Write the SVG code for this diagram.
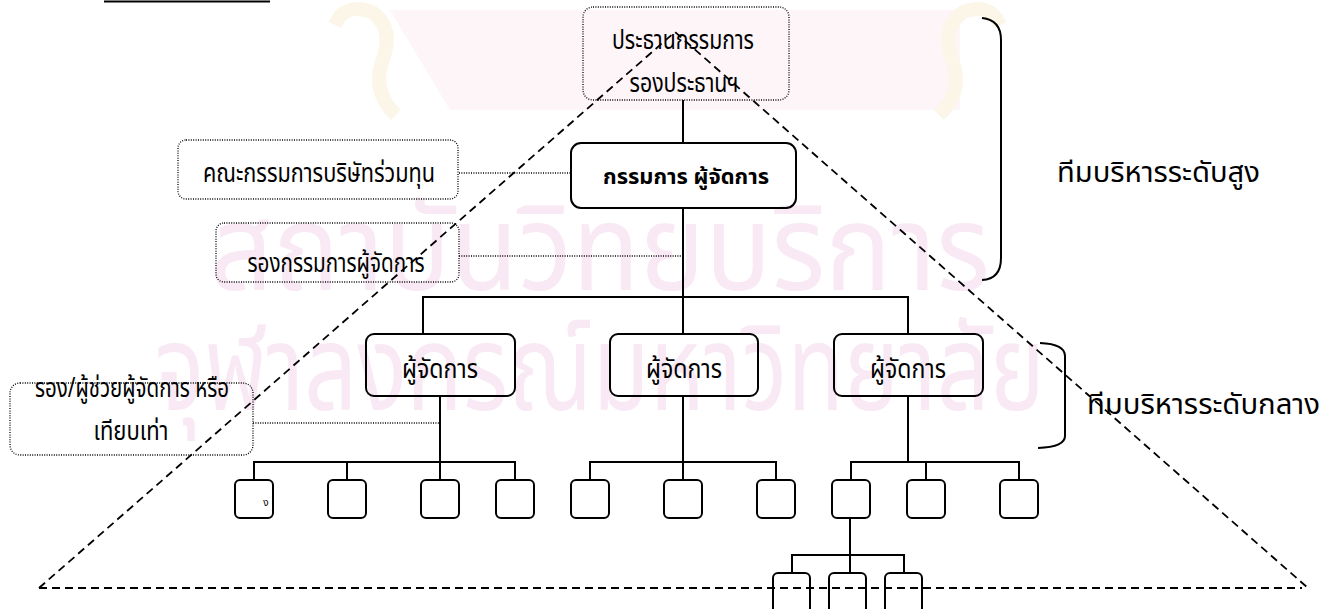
<svg xmlns="http://www.w3.org/2000/svg" width="1336" height="609" viewBox="0 0 1336 609">
  <style>
    .t { font-family: "Noto Sans Thai", "Noto Sans", "DejaVu Sans", sans-serif; fill: #000; }
    .tb { font-family: "Noto Sans Thai", "Noto Sans", "DejaVu Sans", sans-serif; fill: #000; font-weight: bold; }
    .wm { font-family: "Noto Sans Thai", "Noto Sans", "DejaVu Sans", sans-serif; fill: #f8e9f4; }
    .solid { fill: none; stroke: #000; stroke-width: 2; }
    .dot { fill: none; stroke: #000; stroke-width: 1.3; stroke-dasharray: 1 1.4; }
    .line { fill: none; stroke: #000; stroke-width: 2; }
    .dline { fill: none; stroke: #000; stroke-width: 1.3; stroke-dasharray: 1 1.4; }
    .dash { fill: none; stroke: #000; stroke-width: 1.8; stroke-dasharray: 8 5; }
    .brace { fill: none; stroke: #000; stroke-width: 2; }
  </style>
  <rect width="1336" height="609" fill="#fff"/>

  <!-- faint background seal and lettering -->
  <g id="watermark">
    <path d="M390,10 L960,10 L960,110 L450,110 Z" fill="#fdf5f8"/>
    <path d="M335,25 Q345,2 372,12 Q395,28 382,62 Q372,92 396,115" fill="none" stroke="#fbf6e8" stroke-width="14"/>
    <path d="M1000,25 Q990,2 963,12 Q940,28 953,62 Q963,92 939,115" fill="none" stroke="#fbf6e8" stroke-width="14"/>
    <text class="wm" x="600" y="290" text-anchor="middle" font-size="120" textLength="780" lengthAdjust="spacingAndGlyphs">สถาบันวิทยบริการ</text>
    <text class="wm" x="600" y="410" text-anchor="middle" font-size="120" textLength="890" lengthAdjust="spacingAndGlyphs">จุฬาลงกรณ์มหาวิทยาลัย</text>
  </g>

  <!-- title underline -->
  <line x1="104" y1="1.5" x2="270" y2="1.5" class="line"/>

  <!-- connectors -->
  <g id="connectors">
    <line x1="683" y1="100" x2="683" y2="143" class="line"/>
    <line x1="683" y1="208" x2="683" y2="334" class="line"/>
    <line x1="459" y1="173" x2="571" y2="173" class="dline"/>
    <line x1="459" y1="256" x2="683" y2="256" class="dline"/>
    <line x1="253" y1="423" x2="440" y2="423" class="dline"/>
    <!-- managers -->
    <polyline points="423,334 423,297 908,297 908,334" class="line"/>
    <!-- group 1 -->
    <line x1="440" y1="396" x2="440" y2="480" class="line"/>
    <polyline points="254,480 254,462 515,462 515,480" class="line"/>
    <line x1="347" y1="462" x2="347" y2="480" class="line"/>
    <!-- group 2 -->
    <line x1="683" y1="396" x2="683" y2="480" class="line"/>
    <polyline points="590,480 590,462 776,462 776,480" class="line"/>
    <!-- group 3 -->
    <line x1="908" y1="396" x2="908" y2="462" class="line"/>
    <polyline points="851,480 851,462 1019,462 1019,480" class="line"/>
    <line x1="926" y1="462" x2="926" y2="480" class="line"/>
    <!-- sub group -->
    <line x1="850" y1="518" x2="850" y2="573" class="line"/>
    <polyline points="792,573 792,555 904,555 904,573" class="line"/>
  </g>

  <!-- top team -->
  <g id="n-chairman">
    <rect x="583" y="7" width="206" height="93" rx="10" class="dot"/>
    <text class="t" x="683" y="49" text-anchor="middle" font-size="27" textLength="142" lengthAdjust="spacingAndGlyphs">ประธานกรรมการ</text>
    <text class="t" x="684" y="92" text-anchor="middle" font-size="27" textLength="109" lengthAdjust="spacingAndGlyphs">รองประธานฯ</text>
  </g>
  <g id="n-md">
    <rect x="571" y="143" width="225" height="65" rx="10" class="solid"/>
    <text class="tb" x="686" y="184" text-anchor="middle" font-size="22" textLength="166" lengthAdjust="spacingAndGlyphs">กรรมการ ผู้จัดการ</text>
  </g>
  <g id="n-jv-board">
    <rect x="178" y="140" width="280" height="59" rx="8" class="dot"/>
    <text class="t" x="319" y="182" text-anchor="middle" font-size="27" textLength="232" lengthAdjust="spacingAndGlyphs">คณะกรรมการบริษัทร่วมทุน</text>
  </g>
  <g id="n-deputy-md">
    <rect x="216" y="223" width="243" height="59" rx="8" class="dot"/>
    <text class="t" x="336" y="272" text-anchor="middle" font-size="27" textLength="177" lengthAdjust="spacingAndGlyphs">รองกรรมการผู้จัดการ</text>
  </g>

  <!-- middle team -->
  <g id="n-mgr-1">
    <rect x="366" y="334" width="149" height="62" rx="8" class="solid"/>
    <text class="t" x="440" y="378" text-anchor="middle" font-size="27" textLength="76" lengthAdjust="spacingAndGlyphs">ผู้จัดการ</text>
  </g>
  <g id="n-mgr-2">
    <rect x="610" y="334" width="148" height="62" rx="8" class="solid"/>
    <text class="t" x="684" y="378" text-anchor="middle" font-size="27" textLength="76" lengthAdjust="spacingAndGlyphs">ผู้จัดการ</text>
  </g>
  <g id="n-mgr-3">
    <rect x="834" y="334" width="149" height="62" rx="8" class="solid"/>
    <text class="t" x="908" y="378" text-anchor="middle" font-size="27" textLength="76" lengthAdjust="spacingAndGlyphs">ผู้จัดการ</text>
  </g>
  <g id="n-asst">
    <rect x="10" y="383" width="243" height="72" rx="10" class="dot"/>
    <text class="t" x="132" y="397" text-anchor="middle" font-size="27" textLength="194" lengthAdjust="spacingAndGlyphs">รอง/ผู้ช่วยผู้จัดการ หรือ</text>
    <text class="t" x="131" y="440" text-anchor="middle" font-size="27" textLength="75" lengthAdjust="spacingAndGlyphs">เทียบเท่า</text>
  </g>

  <!-- staff units -->
  <g id="n-unit-1"><rect x="235" y="480" width="38" height="38" rx="5" class="solid"/><text class="t" x="266" y="506" text-anchor="middle" font-size="10">ง</text></g>
  <g id="n-unit-2"><rect x="328" y="480" width="38" height="38" rx="5" class="solid"/></g>
  <g id="n-unit-3"><rect x="421" y="480" width="38" height="38" rx="5" class="solid"/></g>
  <g id="n-unit-4"><rect x="496" y="480" width="38" height="38" rx="5" class="solid"/></g>
  <g id="n-unit-5"><rect x="571" y="480" width="38" height="38" rx="5" class="solid"/></g>
  <g id="n-unit-6"><rect x="664" y="480" width="38" height="38" rx="5" class="solid"/></g>
  <g id="n-unit-7"><rect x="757" y="480" width="38" height="38" rx="5" class="solid"/></g>
  <g id="n-unit-8"><rect x="832" y="480" width="38" height="38" rx="5" class="solid"/></g>
  <g id="n-unit-9"><rect x="907" y="480" width="38" height="38" rx="5" class="solid"/></g>
  <g id="n-unit-10"><rect x="1000" y="480" width="38" height="38" rx="5" class="solid"/></g>
  <g id="n-sub-1"><rect x="773" y="573" width="37" height="40" rx="5" class="solid"/></g>
  <g id="n-sub-2"><rect x="829" y="573" width="37" height="40" rx="5" class="solid"/></g>
  <g id="n-sub-3"><rect x="885" y="573" width="37" height="40" rx="5" class="solid"/></g>

  <!-- management pyramid -->
  <g id="pyramid">
    <polyline points="39,588 675,32 1308,588" class="dash"/>
    <line x1="39" y1="588" x2="1302" y2="588" class="dash"/>
  </g>

  <!-- team level braces -->
  <g id="level-top">
    <path d="M982,18 Q1001,20 1001,40 L1001,258 Q1001,279 982,280" class="brace"/>
    <text class="t" x="1057" y="182" font-size="28" textLength="203" lengthAdjust="spacingAndGlyphs">ทีมบริหารระดับสูง</text>
  </g>
  <g id="level-middle">
    <path d="M1040,343 Q1065,344 1065,356 L1065,436 Q1065,447 1038,448" class="brace"/>
    <text class="t" x="1087" y="414" font-size="28" textLength="233" lengthAdjust="spacingAndGlyphs">ทีมบริหารระดับกลาง</text>
  </g>
</svg>
